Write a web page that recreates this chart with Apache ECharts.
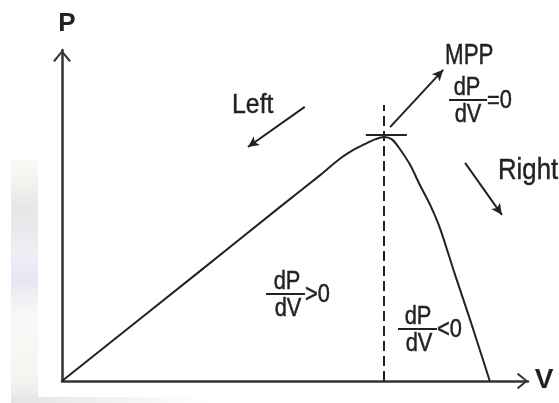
<!DOCTYPE html>
<html>
<head>
<meta charset="utf-8">
<script src="https://cdn.jsdelivr.net/npm/echarts@6/dist/echarts.min.js"></script>
<style>
  html, body { margin: 0; padding: 0; background: #fff; }
  #container { width: 559px; height: 403px; }
</style>
</head>
<body>
<div id="container"></div>
<script>
    // P-V curve, both axes 0..100 (arbitrary units)
    var volt  = [0, 29.6, 46.8, 55.4, 59.7, 62.9, 65.0, 67.2, 69.1, 70.8, 72.5, 74.7, 76.8, 79.0, 81.1, 84.3, 87.6, 91.8];
    var power = [0, 33.2, 52.6, 62.2, 67.2, 70.1, 71.6, 73.0, 73.7, 73.0, 70.1, 65.3, 59.2, 53.2, 46.2, 32.3, 18.4, 0];
    var mpp = [69.1, 73.7];          // maximum power point
    var mppLineTop = 83.4;           // top of the dashed line
    var crossBar = [65.2, 74.0];     // x extent of the tick through MPP
    // annotation arrows [x1, y1, x2, y2]
    var arrowMpp   = [70.4, 76.7, 81.8, 94.0];
    var arrowLeft  = [52.1, 82.8, 39.9, 70.7];
    var arrowRight = [86.5, 65.9, 94.4, 50.2];

    var ink = '#222';
    var font = 'Liberation Sans, Arial, sans-serif';
    var chevron = 'path://M0,12 L10,0 L20,12 L18,13.4 L10,3.4 L2,13.4 Z';

    function arrow(a){
        return [{coord: [a[0], a[1]], symbol: 'none'},
                {coord: [a[2], a[3]], symbol: 'arrow', symbolSize: [8, 11]}];
    }
    function txt(s, x, y, size, opts){
        opts = opts || {};
        return {
            type: 'text', x: x, y: y, z: 10, silent: true,
            scaleX: opts.sx || 1, scaleY: opts.sy || 1,
            style: {
                text: s, fill: ink, stroke: ink, lineWidth: opts.bold ? 0 : 0.4,
                font: (opts.bold ? 'bold ' : '') + size + 'px ' + font,
                align: opts.align || 'left', verticalAlign: 'middle'
            }
        };
    }
    // dP/dV fraction with a trailing relation text
    function frac(cx, barY, x1, x2, tail){
        return [
            txt('dP', cx, barY - 12, 23, {align: 'center', sx: 0.95, sy: 1.1}),
            {type: 'line', z: 10, silent: true,
             shape: {x1: x1, y1: barY, x2: x2, y2: barY},
             style: {stroke: ink, lineWidth: 2}},
            txt('dV', cx + 1, barY + 15, 23, {align: 'center', sx: 0.95, sy: 1.1}),
            txt(tail, x2, barY + 1, 23, {sx: 0.95, sy: 1.1})
        ];
    }

    var pts = volt.map(function(v, i){ return [v, power[i]]; });

    var myChart = echarts.init(document.getElementById('container'));
    myChart.setOption({
        animation: false,
        backgroundColor: '#fff',
        grid: {left: 62, right: 31, top: 50, bottom: 22},
        xAxis: {
            type: 'value', min: 0, max: 100,
            axisLine: {show: true, onZero: false, symbol: ['none', chevron],
                       symbolSize: [20, 11], symbolOffset: [0, -5.5],
                       lineStyle: {color: '#333', width: 2.5}},
            axisTick: {show: false}, axisLabel: {show: false}, splitLine: {show: false}
        },
        yAxis: {
            type: 'value', min: 0, max: 100,
            axisLine: {show: true, onZero: false, symbol: ['none', chevron],
                       symbolSize: [20, 12], symbolOffset: [0, -6],
                       lineStyle: {color: '#333', width: 2.5}},
            axisTick: {show: false}, axisLabel: {show: false}, splitLine: {show: false}
        },
        series: [{
            type: 'line',
            data: pts,
            smooth: 0.3,
            showSymbol: false,
            lineStyle: {color: ink, width: 2},
            z: 3,
            markLine: {
                silent: true,
                animation: false,
                label: {show: false},
                lineStyle: {color: ink, width: 2, type: 'solid'},
                data: [
                    [{coord: [mpp[0], 0], symbol: 'none',
                      lineStyle: {type: [10, 5], width: 2}},
                     {coord: [mpp[0], mppLineTop], symbol: 'none'}],
                    [{coord: [crossBar[0], mpp[1] + 0.6], symbol: 'none'},
                     {coord: [crossBar[1], mpp[1] + 0.6], symbol: 'none'}],
                    arrow(arrowMpp),
                    arrow(arrowLeft),
                    arrow(arrowRight)
                ]
            }
        }],
        graphic: [
            // faint scan marks at the edges of the original picture
            {type: 'rect', z: 0, silent: true, shape: {x: 11, y: 160, width: 27, height: 238},
             style: {fill: new echarts.graphic.LinearGradient(0, 0, 0, 1, [
                 {offset: 0, color: '#fbfaf4'}, {offset: 0.12, color: '#f1f0ea'},
                 {offset: 0.2, color: '#e6e6e6'}, {offset: 0.4, color: '#eeeef6'},
                 {offset: 0.5, color: '#e6e6f2'}, {offset: 0.65, color: '#f8f8f8'},
                 {offset: 0.9, color: '#f6f6f0'}, {offset: 1, color: '#e8e8e8'}])}},
            {type: 'rect', z: 0, silent: true, shape: {x: 11, y: 397, width: 200, height: 6},
             style: {fill: new echarts.graphic.LinearGradient(0, 0, 1, 0, [
                 {offset: 0, color: '#e4e4e4'}, {offset: 1, color: '#ffffff'}])}},
            txt('P', 67, 24, 26, {align: 'center', bold: true}),
            txt('V', 544, 380, 28, {align: 'center', bold: true}),
            txt('MPP', 445, 56, 26, {sx: 0.86, sy: 1.1}),
            txt('Left', 232, 105, 27, {sx: 0.92, sy: 1.05}),
            txt('Right', 498, 171, 28, {sx: 0.92, sy: 1.05})
        ].concat(frac(467, 100, 449, 487, '=0'))
         .concat(frac(287, 294, 266, 305, '>0'))
         .concat(frac(418, 329, 398, 437, '<0'))
    });
</script>
</body>
</html>
